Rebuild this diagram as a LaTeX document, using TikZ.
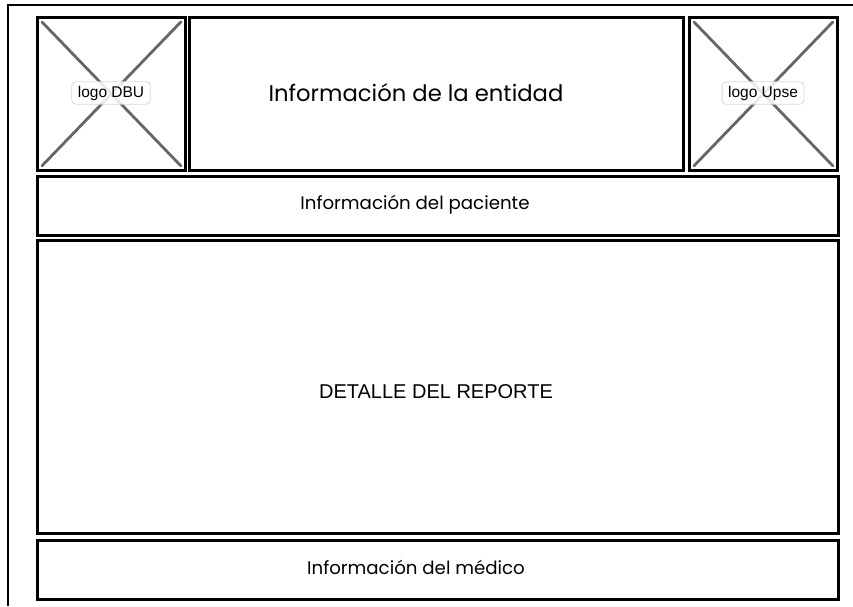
\documentclass[tikz,border=0pt]{standalone}
\usepackage{fontspec}
\setmainfont{Poppins}
\newfontfamily\arialf{Liberation Sans}
\begin{document}
\begin{tikzpicture}[x=1pt,y=-1pt,
  panel/.style={draw=black,line width=2.8pt,fill=white},
  cross/.style={draw=black!60,line width=2.8pt,line cap=round},
  hand/.style={font=\fontsize{18.2}{22}\selectfont},
  tag/.style={draw=black!15,fill=white,fill opacity=0.85,text opacity=1,rounded corners=4pt,line width=0.8pt,inner xsep=6pt,inner ysep=4pt,font=\arialf\fontsize{15.5}{18}\selectfont}]
\useasboundingbox (0,0) rectangle (853,606);
% outer frame
\coordinate (ftr) at (853,5);
\coordinate (ftl) at (8,5);
\coordinate (fbl) at (8,606);
\draw[line width=2.4pt] (ftr) -- (ftl) -- (fbl);
% logo DBU
\node[panel,minimum width=148pt,minimum height=153pt,anchor=north west] (dbu) at (36,16) {};
\draw[cross] ([shift={(6,6)}]dbu.north west) -- ([shift={(-6,-6)}]dbu.south east);
\draw[cross] ([shift={(-6,6)}]dbu.north east) -- ([shift={(6,-6)}]dbu.south west);
\node[tag] (dbut) at (111,93) {logo DBU};
% entity
\node[panel,minimum width=494pt,minimum height=153pt,anchor=north west] (ent) at (188,16) {};
\node[font=\fontsize{22.7}{27}\selectfont] (entt) at (416,93) {Información de la entidad};
% logo Upse
\node[panel,minimum width=148pt,minimum height=153pt,anchor=north west] (ups) at (688,16) {};
\draw[cross] ([shift={(6,6)}]ups.north west) -- ([shift={(-6,-6)}]ups.south east);
\draw[cross] ([shift={(-6,6)}]ups.north east) -- ([shift={(6,-6)}]ups.south west);
\node[tag] (upst) at (763,93) {logo Upse};
% patient
\node[panel,minimum width=801pt,minimum height=59pt,anchor=north west] (pac) at (36,175) {};
\node[hand] (pact) at (415,205) {Información del paciente};
% detail
\node[panel,minimum width=801pt,minimum height=293pt,anchor=north west] (det) at (36,239) {};
\node[font=\arialf\fontsize{20}{24}\selectfont] (dett) at (436,392) {DETALLE DEL REPORTE};
% medico
\node[panel,minimum width=801pt,minimum height=59pt,anchor=north west] (med) at (36,539) {};
\node[hand] (medt) at (416,567) {Información del médico};
\end{tikzpicture}
\end{document}
